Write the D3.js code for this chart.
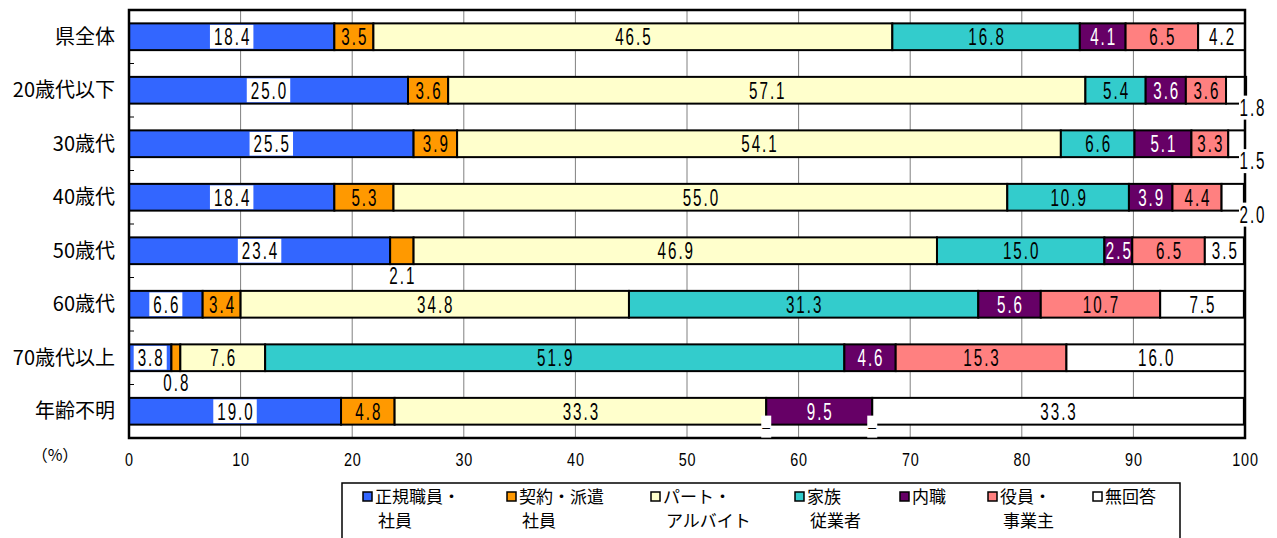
<!DOCTYPE html>
<html>
<head>
<meta charset="utf-8">
<script src="https://cdn.jsdelivr.net/npm/d3@7"></script>
<style>
  body { margin: 0; background: #fff; }
  svg { display: block; }
  .cat { font-family: "Noto Sans CJK JP", sans-serif; font-size: 20px; }
  .num { font-family: "Liberation Sans", Arial, sans-serif; }
  .leg { font-family: "Noto Sans CJK JP", sans-serif; font-size: 17px; }
</style>
</head>
<body>
<div id="chart"></div>
<script>
// data (percent)
const categories = ["県全体", "20歳代以下", "30歳代", "40歳代", "50歳代", "60歳代", "70歳代以上", "年齢不明"];
const seriesNames = ["正規職員・社員", "契約・派遣社員", "パート・アルバイト", "家族従業者", "内職", "役員・事業主", "無回答"];
const legendLines = [["正規職員・", "社員"], ["契約・派遣", "社員"], ["パート・", "アルバイト"], ["家族", "従業者"], ["内職"], ["役員・", "事業主"], ["無回答"]];
const seiki    = [18.4, 25.0, 25.5, 18.4, 23.4, 6.6, 3.8, 19.0];
const keiyaku  = [3.5, 3.6, 3.9, 5.3, 2.1, 3.4, 0.8, 4.8];
const part     = [46.5, 57.1, 54.1, 55.0, 46.9, 34.8, 7.6, 33.3];
const kazoku   = [16.8, 5.4, 6.6, 10.9, 15.0, 31.3, 51.9, 0];
const naishoku = [4.1, 3.6, 5.1, 3.9, 2.5, 5.6, 4.6, 9.5];
const yakuin   = [6.5, 3.6, 3.3, 4.4, 6.5, 10.7, 15.3, 0];
const mukaito  = [4.2, 1.8, 1.5, 2.0, 3.5, 7.5, 16.0, 33.3];
const xTicks = [0, 10, 20, 30, 40, 50, 60, 70, 80, 90, 100];

const series = [seiki, keiyaku, part, kazoku, naishoku, yakuin, mukaito];
const colors = ["#3366ff", "#ff9900", "#ffffcc", "#33cccc", "#660066", "#ff8080", "#ffffff"];
const textColors = ["#000", "#000", "#000", "#000", "#fff", "#000", "#000"];
const legendX = [363, 507, 651, 795, 900, 988, 1093];

const width = 1277, height = 538;
const margin = {top: 10, left: 129, right: 32, bottom: 100};
const pw = width - margin.left - margin.right,
      ph = height - margin.top - margin.bottom;

const svg = d3.select("#chart").append("svg")
    .attr("width", width)
    .attr("height", height);

const g = svg.append("g")
    .attr("transform", "translate(" + margin.left + "," + margin.top + ")");

const x = d3.scaleLinear().domain([0, 100]).range([0, pw]);
const y = d3.scaleBand().domain(categories).range([0, ph])
    .paddingInner(0.5).paddingOuter(0.25);

// grid
g.append("g").selectAll("line")
    .data(xTicks.slice(1, -1))
    .enter().append("line")
    .attr("x1", d => x(d)).attr("x2", d => x(d))
    .attr("y1", 0).attr("y2", ph)
    .attr("stroke", "#808080").attr("stroke-width", 1);

// small ticks between categories
g.append("g").selectAll("line")
    .data(categories.slice(1))
    .enter().append("line")
    .attr("x1", 0).attr("x2", 5)
    .attr("y1", d => y(d) - y.step() * y.paddingInner() / 2)
    .attr("y2", d => y(d) - y.step() * y.paddingInner() / 2)
    .attr("stroke", "#000").attr("stroke-width", 1);

// stacked segments
const segs = [];
categories.forEach(function(c, i) {
    let acc = 0;
    series.forEach(function(s, k) {
        segs.push({cat: c, k: k, v: s[i], x0: acc, x1: acc + s[i], last: k === series.length - 1});
        acc += s[i];
    });
});

g.append("g").selectAll("rect")
    .data(segs.filter(d => d.v > 0))
    .enter().append("rect")
    .attr("x", d => x(d.x0))
    .attr("y", d => y(d.cat))
    .attr("width", d => x(d.x1) - x(d.x0))
    .attr("height", y.bandwidth())
    .attr("fill", d => colors[d.k])
    .attr("stroke", "#000")
    .attr("stroke-width", 2);

// frame
g.append("rect")
    .attr("x", 0).attr("y", 0).attr("width", pw).attr("height", ph)
    .attr("fill", "none").attr("stroke", "#000").attr("stroke-width", 2.5);

// value labels
const labels = g.append("g");
const sx = 0.66, fs = 23, ls = 3;

function numText(px, py, str, col) {
    return labels.append("text")
        .attr("class", "num")
        .attr("transform", "translate(" + (px + ls * sx / 2) + "," + py + ") scale(" + sx + ",1)")
        .attr("text-anchor", "middle")
        .attr("dy", "0.36em")
        .style("font-size", fs + "px")
        .style("letter-spacing", ls + "px")
        .attr("fill", col)
        .text(str);
}

function bgBox(px, py, w, h) {
    return labels.append("rect")
        .attr("x", px - w / 2).attr("y", py - h / 2)
        .attr("width", w).attr("height", h)
        .attr("fill", "#fff");
}

segs.forEach(function(d) {
    const top = y(d.cat), bot = y(d.cat) + y.bandwidth();
    const cx = x((d.x0 + d.x1) / 2);
    const cy = top + y.bandwidth() / 2;
    const str = d.v.toFixed(1);
    if (d.v === 0) {
        bgBox(x(d.x0), bot + 2, 10, 22);
        labels.append("text")
            .attr("x", x(d.x0)).attr("y", bot + 2)
            .attr("dy", "0.36em").attr("text-anchor", "middle")
            .style("font-family", "Liberation Sans").style("font-size", "14px")
            .text("–");
    } else if (d.v < 2.2 && d.last) {
        const lx = x(100) + 7;
        labels.append("line")
            .attr("x1", x(d.x1) - 2).attr("x2", lx - 12)
            .attr("y1", bot).attr("y2", bot)
            .attr("stroke", "#000").attr("stroke-width", 1.5);
        bgBox(lx, bot + 4, 26, 24);
        numText(lx, bot + 4, str, "#000");
    } else if (d.v < 2.2) {
        numText(cx, bot + 12, str, "#000");
    } else {
        let bb = null;
        if (d.k === 0) bb = bgBox(cx, cy, 10, y.bandwidth() - 3);
        const t = numText(cx, cy, str, textColors[d.k]);
        if (bb) {
            const w = (t.node().getBBox().width - ls) * sx + 8;
            bb.attr("x", cx - w / 2).attr("width", w);
        }
    }
});

// category labels
g.append("g").selectAll("text")
    .data(categories)
    .enter().append("text")
    .attr("class", "cat")
    .attr("x", -14)
    .attr("y", d => y(d) + y.bandwidth() / 2)
    .attr("dy", "0.36em")
    .attr("text-anchor", "end")
    .text(d => d);

// x axis
const xAxis = g.append("g")
    .attr("transform", "translate(0," + ph + ")")
    .call(d3.axisBottom(x).tickValues(xTicks).tickSize(0));
xAxis.select(".domain").remove();
xAxis.selectAll("text")
    .attr("class", "num")
    .attr("y", 22).attr("dy", "0.36em")
    .attr("transform", "scale(0.8,1)")
    .style("font-size", "18px")
    .style("letter-spacing", "1px")
    .attr("fill", "#000");

svg.append("text")
    .attr("class", "leg")
    .attr("x", 55).attr("y", 455)
    .attr("dy", "0.36em")
    .attr("text-anchor", "middle")
    .style("font-size", "16px")
    .text("（%）");

// legend
svg.append("rect")
    .attr("x", 342).attr("y", 483)
    .attr("width", 838).attr("height", 60)
    .attr("fill", "#fff").attr("stroke", "#000").attr("stroke-width", 1.5);

const leg = svg.append("g").selectAll("g")
    .data(seriesNames)
    .enter().append("g")
    .attr("transform", (d, i) => "translate(" + legendX[i] + ",497)");

leg.append("rect")
    .attr("x", 0).attr("y", -5)
    .attr("width", 9).attr("height", 9)
    .attr("fill", (d, i) => colors[i])
    .attr("stroke", "#000").attr("stroke-width", 1.5);

leg.each(function(d, i) {
    const sel = d3.select(this);
    legendLines[i].forEach(function(line, j) {
        sel.append("text")
            .attr("class", "leg")
            .attr("x", 12 + j * 3)
            .attr("y", j * 24)
            .attr("dy", "0.36em")
            .text(line);
    });
});
</script>
</body>
</html>
